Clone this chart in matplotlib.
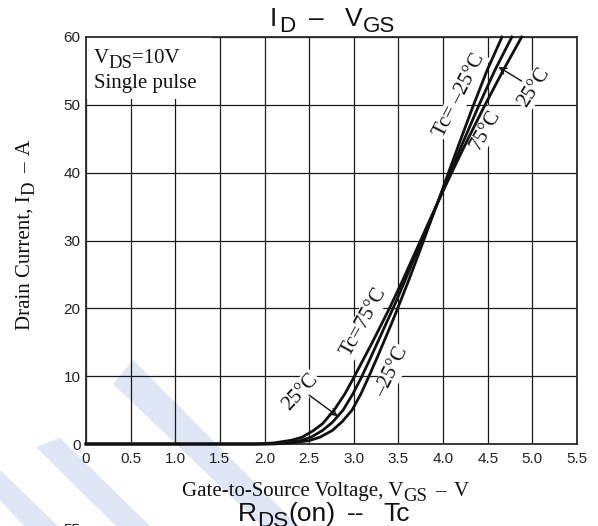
import math
import matplotlib
matplotlib.use("Agg")
import matplotlib.pyplot as plt
from matplotlib.font_manager import FontProperties
from matplotlib.patches import Polygon, Rectangle

W, H, DPI = 598, 526, 100

# Transfer characteristics I_D(V_GS) at three case temperatures
vgs_m25 = [0, 2.1, 2.3, 2.5, 2.62, 2.76, 2.87, 2.98, 3.08, 3.17, 3.26, 3.35, 3.43,
           3.50, 3.62, 3.74, 3.86, 3.95, 4.08, 4.20, 4.33, 4.49, 4.66]
id_m25 = [0, 0, 0.15, 0.5, 1.0, 2.0, 3.3, 5.0, 7.4, 10.0, 12.7, 15.5, 18.0,
          20.3, 24.3, 28.5, 32.8, 36.0, 40.7, 45.0, 49.6, 55.0, 60.0]

vgs_25 = [0, 2.0, 2.2, 2.4, 2.52, 2.65, 2.76, 2.88, 2.99, 3.08, 3.17, 3.26, 3.36,
          3.46, 3.58, 3.71, 3.84, 3.95, 4.09, 4.24, 4.40, 4.58, 4.77]
id_25 = [0, 0, 0.15, 0.5, 1.0, 2.0, 3.2, 5.0, 7.4, 9.7, 12.2, 14.8, 17.7,
         20.6, 24.3, 28.4, 32.4, 35.9, 40.3, 45.0, 49.9, 55.1, 60.0]

vgs_75 = [0, 1.9, 2.1, 2.3, 2.42, 2.55, 2.65, 2.78, 2.9, 3.0, 3.1, 3.2, 3.3,
          3.41, 3.55, 3.70, 3.84, 3.95, 4.10, 4.28, 4.47, 4.67, 4.88]
id_75 = [0, 0, 0.15, 0.55, 1.0, 2.0, 3.0, 5.0, 7.4, 9.8, 12.3, 14.8, 17.4,
         20.3, 24.2, 28.6, 32.7, 35.9, 40.1, 45.0, 50.0, 55.0, 60.0]

x_ticks = [0, 0.5, 1.0, 1.5, 2.0, 2.5, 3.0, 3.5, 4.0, 4.5, 5.0, 5.5]
x_tick_labels = ["0", "0.5", "1.0", "1.5", "2.0", "2.5", "3.0", "3.5", "4.0",
                 "4.5", "5.0", "5.5"]
y_ticks = [0, 10, 20, 30, 40, 50, 60]
y_tick_labels = ["0", "10", "20", "30", "40", "50", "60"]

SERIF = "Liberation Serif"
SANS = "Liberation Sans"
INK = "#111111"

plt.rcParams["font.family"] = [SANS, "DejaVu Sans"]

fig = plt.figure(figsize=(W / DPI, H / DPI), dpi=DPI)
fig.patch.set_facecolor("white")

# light diagonal watermark strokes in the lower-left corner (pixel coords, top-left origin)
wm_color = "#dfe6f6"
bands = [
    [(113, 384), (133, 360), (298, 526), (262, 526)],
    [(36, 447), (60, 438), (150, 526), (116, 526)],
    [(0, 470), (0, 500), (24, 526), (58, 526)],
]
for pts in bands:
    fig.patches.append(Polygon([(x / W, 1 - y / H) for x, y in pts], closed=True,
                               transform=fig.transFigure, facecolor=wm_color,
                               edgecolor="none", zorder=-1))

ax = fig.add_axes([86 / W, 1 - 444 / H, (577 - 86) / W, (444 - 37) / H])
ax.set_facecolor("none")
ax.set_xlim(0, 5.5)
ax.set_ylim(0, 60)
ax.set_xticks(x_ticks)
ax.set_xticklabels(x_tick_labels)
ax.set_yticks(y_ticks)
ax.set_yticklabels(y_tick_labels)
ax.tick_params(axis="both", length=0, labelsize=11, labelcolor="#222222")
ax.tick_params(axis="x", pad=5.5)
ax.tick_params(axis="y", pad=4.0)
ax.set_axisbelow(True)
ax.grid(True, color="#1a1a1a", linewidth=0.9)
for sp in ax.spines.values():
    sp.set_linewidth(1.3)
    sp.set_color("#2a2a2a")

# white panel behind the test-condition note
ax.add_patch(Rectangle((0, 50.9), 1.41, 9.1, facecolor="white", edgecolor="none", zorder=1))

for v, i in [(vgs_m25, id_m25), (vgs_25, id_25), (vgs_75, id_75)]:
    ax.plot(v, i, color=INK, linewidth=2.0, clip_on=False, zorder=3,
            solid_joinstyle="round")

label_box = dict(boxstyle="square,pad=0.05", facecolor="white", edgecolor="none")
curve_labels = [
    ("Tc= \u201325°C", 4.19, 51.4, 63),
    ("75°C", 4.48, 46.3, 60),
    ("25°C", 5.02, 52.6, 57),
    ("Tc=75°C", 3.11, 18.0, 61),
    ("\u201325°C", 3.43, 10.6, 64),
    ("25°C", 2.40, 7.7, 47),
]
for s, x, y, rot in curve_labels:
    ax.text(x, y, s, rotation=rot, rotation_mode="anchor", ha="center", va="center",
            family=SERIF, fontsize=15, color=INK, bbox=label_box, zorder=2)

arrow_props = dict(arrowstyle="->", lw=1.0, color=INK, shrinkA=0, shrinkB=0,
                   mutation_scale=12)
ax.annotate("", xy=(4.62, 55.6), xytext=(4.88, 53.5), arrowprops=arrow_props, zorder=4)
ax.annotate("", xy=(2.82, 4.1), xytext=(2.50, 7.2), arrowprops=arrow_props, zorder=4)


def rich_text(x0, y0, runs, family, size, rotation=0.0, color=INK):
    """Draw text made of runs (text, scale, drop_px, gap_px) from a baseline origin
    given in pixels measured from the top-left corner."""
    renderer = fig.canvas.get_renderer()
    th = math.radians(rotation)
    ux, uy = math.cos(th), math.sin(th)
    dx, dy = math.sin(th), -math.cos(th)
    bx, by = x0, H - y0
    adv = 0.0
    for text, scale, drop, gap in runs:
        adv += gap
        prop = FontProperties(family=family, size=size * scale)
        w, _, _ = renderer.get_text_width_height_descent(text, prop, ismath=False)
        px = bx + adv * ux + drop * dx
        py = by + adv * uy + drop * dy
        fig.text(px / W, py / H, text, fontproperties=prop, rotation=rotation,
                 rotation_mode="anchor", ha="left", va="baseline", color=color)
        adv += w


# title
rich_text(270, 26, [("I", 1, 0, 0), ("D", 0.85, 6, 1.5), ("\u2013", 1, 0, 14),
                    ("V", 1, 0, 21), ("GS", 0.85, 6, 0)], SANS, 19)

# test conditions
rich_text(94, 63, [("V", 1, 0, 0), ("DS", 0.9, 5, -1), ("=10V", 1, 0, 0)], SERIF, 15)
fig.text(94 / W, 1 - 88 / H, "Single pulse", family=SERIF, fontsize=15, color=INK,
         ha="left", va="baseline")

# axis labels
rich_text(30, 330, [("Drain Current, I", 1, 0, 0), ("D", 0.9, 4, 0.5),
                    ("\u2013", 1, 0, 8), ("A", 1, 0, 8)], SERIF, 15, rotation=90)
rich_text(182, 496, [("Gate-to-Source Voltage, V", 1, 0, 0), ("GS", 0.9, 5, 0),
                     ("\u2013", 1, 0, 8), ("V", 1, 0, 8)], SERIF, 15)

# heading of the following chart, cut by the page edge
rich_text(238, 521, [("R", 1, 0, 0), ("DS", 0.85, 6, 0), ("(on)", 1, 0, 0),
                     ("--", 1, 0, 11), ("Tc", 1, 0, 19)], SANS, 19)
fig.text(80 / W, 1 - 534 / H, "55", family=SANS, fontsize=11, color="#222222",
         ha="right", va="baseline")

fig.savefig("out.png", dpi=DPI)
